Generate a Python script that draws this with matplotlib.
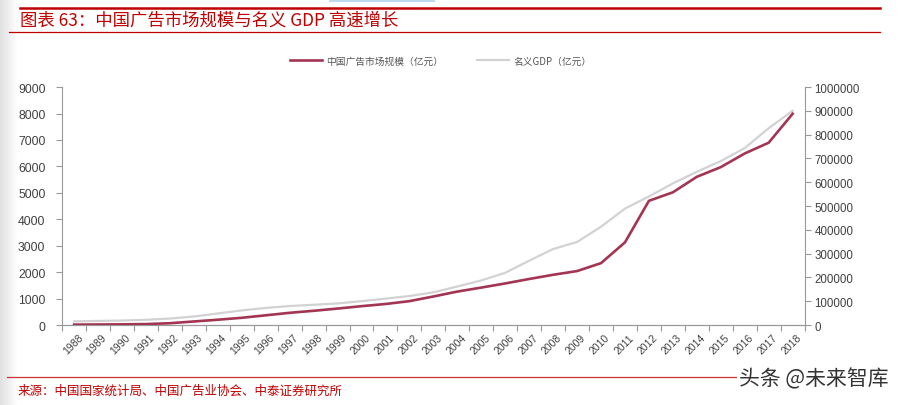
import numpy as np
import matplotlib
matplotlib.use('Agg')
import matplotlib.pyplot as plt
from matplotlib.patches import Rectangle
from matplotlib.lines import Line2D

plt.rcParams['font.family'] = ['Liberation Sans', 'Noto Sans CJK SC', 'DejaVu Sans']
plt.rcParams['axes.unicode_minus'] = False

# 数据
years = [str(y) for y in range(1988, 2019)]
ad_market = [15, 20, 25, 35, 68, 134, 200, 273, 367, 462, 538, 622, 713, 795, 903,
             1079, 1265, 1416, 1573, 1741, 1900, 2041, 2341, 3126, 4698, 5020, 5606,
             5973, 6489, 6896, 7991]
gdp = [15180, 17180, 18873, 22006, 27195, 35673, 48638, 61340, 71814, 79715, 85196,
       90564, 100280, 110863, 121717, 137422, 161840, 187319, 219439, 270232, 319516,
       349081, 413030, 489301, 540367, 595244, 643974, 689052, 743586, 827122, 900309]
left_ticks = list(range(0, 9001, 1000))
right_ticks = list(range(0, 1000001, 100000))

title = '图表 63：中国广告市场规模与名义 GDP 高速增长'
source = '来源：中国国家统计局、中国广告业协会、中泰证券研究所'
red = '#C00000'
ad_color = '#A33553'
gdp_color = '#D2D2D2'
txt = '#404040'

fig = plt.figure(figsize=(9, 4.06), dpi=100)

# 左侧阴影
shade = fig.add_axes([0, 0, 0.02, 1])
shade.imshow(np.linspace(0.88, 1, 50).reshape(1, -1), cmap='gray', vmin=0, vmax=1,
             aspect='auto', extent=[0, 1, 0, 1])
shade.axis('off')

ax = fig.add_axes([0.069, 0.197, 0.825, 0.586])
x = np.arange(len(years))
ax.plot(x, ad_market, color=ad_color, lw=1.9, zorder=3)
ax.set_xlim(-0.5, len(years) - 0.5)
ax.set_ylim(0, 9000)
ax.set_yticks(left_ticks)
ax.set_yticklabels([str(v) for v in left_ticks], fontsize=8.8, color=txt)
ax.set_xticks(np.arange(-0.5, len(years), 1), minor=False)
ax.set_xticklabels([])
ax.set_xticks(x + 0.15, minor=True)
ax.set_xticklabels(years, minor=True, rotation=45, fontsize=7.5, color=txt,
                   ha='right', va='top', rotation_mode='anchor')
ax.tick_params(axis='x', which='minor', length=0, pad=5)
ax.tick_params(axis='x', which='major', length=4, color='#999999')
ax.tick_params(axis='y', length=4, color='#999999', pad=8)

ax2 = ax.twinx()
ax2.plot(x, gdp, color=gdp_color, lw=1.6, zorder=2)
ax2.set_ylim(0, 1000000)
ax2.set_yticks(right_ticks)
ax2.set_yticklabels([str(v) for v in right_ticks], fontsize=8.3, color=txt)
ax2.tick_params(axis='y', length=4, color='#999999', pad=3)
ax.set_zorder(ax2.get_zorder() + 1)
ax.patch.set_visible(False)

for a in (ax, ax2):
    a.spines['top'].set_visible(False)
    for s in ('left', 'right', 'bottom'):
        a.spines[s].set_color('#999999')
        a.spines[s].set_linewidth(0.8)
ax.spines['right'].set_visible(False)
ax2.spines['left'].set_visible(False)

# 图例
handles = [Line2D([], [], color=ad_color, lw=1.9), Line2D([], [], color=gdp_color, lw=1.6)]
leg = fig.legend(handles, ['中国广告市场规模（亿元）', '名义GDP（亿元）'],
                 loc='center', bbox_to_anchor=(0.49, 0.848), ncol=2, frameon=False,
                 prop={'family': ['Noto Sans CJK SC'], 'size': 7}, handlelength=3.2,
                 columnspacing=3.5, handletextpad=0.5)
for t in leg.get_texts():
    t.set_color('#555555')

# 标题与分隔线
fig.add_artist(Line2D([0.022, 0.978], [1 - 9 / 406, 1 - 9 / 406], color=red, lw=1.8))
fig.add_artist(Line2D([0.01, 0.978], [1 - 33 / 406, 1 - 33 / 406], color=red, lw=0.9))
fig.text(0.022, 1 - 21 / 406, title, fontsize=12.5, color=red, style='italic',
         family=['Noto Sans CJK SC'], va='center')
fig.add_artist(Rectangle((0.365, 1 - 3 / 406), 0.118, 3 / 406, color='#BFD9EE', lw=0))

fig.add_artist(Line2D([0.008, 0.9], [1 - 378 / 406, 1 - 378 / 406], color='#C33', lw=0.9))
fig.text(0.02, 1 - 391 / 406, source, fontsize=9, color=red,
         family=['Noto Sans CJK SC'], va='center')
fig.text(0.987, 1 - 379 / 406, '头条 @未来智库', fontsize=15, color='#333333',
         family=['Noto Sans CJK SC'], ha='right', va='center',
         bbox=dict(facecolor='white', edgecolor='none', pad=1))

fig.savefig('out.png', dpi=100)
